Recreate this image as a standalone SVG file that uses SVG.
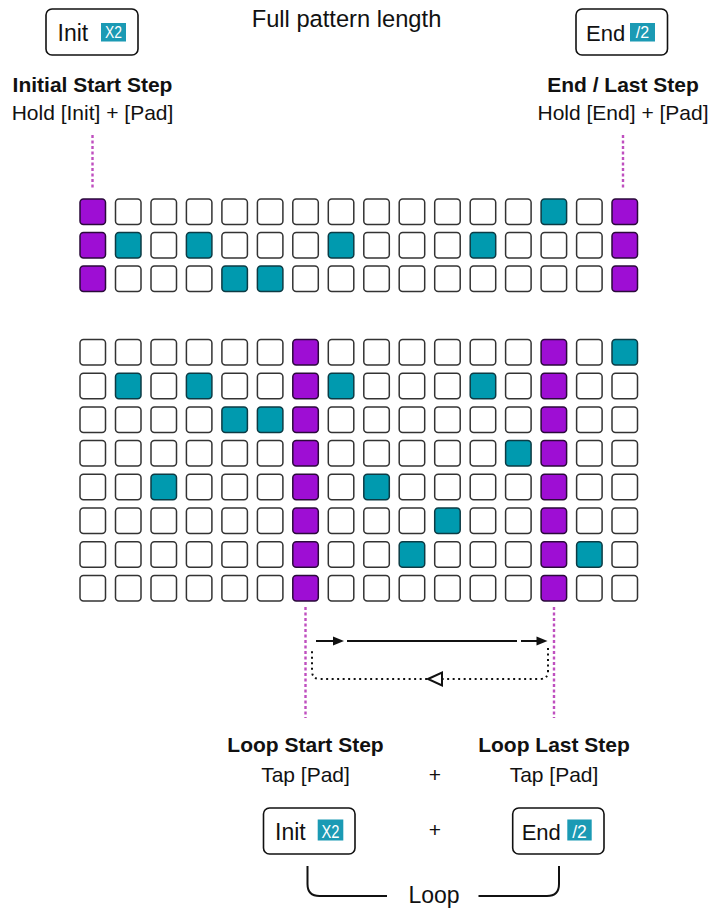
<svg xmlns="http://www.w3.org/2000/svg" width="709" height="908" viewBox="0 0 709 908">
<defs>
<style>
text{font-family:"Liberation Sans",Arial,sans-serif;fill:#111}
.b{font-weight:bold;font-size:21px}
.r{font-size:21px}
.btn{fill:#fff;stroke:#111;stroke-width:1.6}
.badge{fill:#1b9ab4}
.bt{fill:#fff;font-size:16px}
.p{stroke:#333;stroke-width:1.5;fill:#fff}
.pu{fill:#9e0ed4;stroke:#2a0a3a}
.te{fill:#009aaf;stroke:#0d3b44}
.mag{stroke:#bf4fbf;stroke-width:2.4;stroke-dasharray:3 2.5;fill:none}
.ln{stroke:#111;stroke-width:2;fill:none}
.dot{stroke:#111;stroke-width:2;stroke-dasharray:2 3.5;fill:none}
</style>
<rect id="pad" width="25.5" height="25.5" rx="3.5"/>
</defs>
<rect width="709" height="908" fill="#fff"/>

<text id="title" x="346.5" y="27" text-anchor="middle" style="font-size:23.7px">Full pattern length</text>

<g id="init-top">
<rect class="btn" x="46" y="9" width="92" height="46" rx="6"/>
<text x="57.5" y="41" style="font-size:23px">Init</text>
<rect class="badge" x="101" y="23" width="25" height="18.5"/>
<text class="bt" x="113.5" y="38.3" text-anchor="middle" textLength="17" lengthAdjust="spacingAndGlyphs">X2</text>
</g>
<g id="end-top">
<rect class="btn" x="576" y="9" width="91.5" height="46" rx="6"/>
<text x="586" y="41" style="font-size:22px">End</text>
<rect class="badge" x="630" y="23" width="25" height="18.5"/>
<text class="bt" x="642.5" y="38.3" text-anchor="middle">/2</text>
</g>

<g id="label-initial">
<text class="b" x="92.5" y="91.5" text-anchor="middle">Initial Start Step</text>
<text class="r" x="92.5" y="119.5" text-anchor="middle">Hold [Init] + [Pad]</text>
</g>
<g id="label-end">
<text class="b" x="623" y="91.5" text-anchor="middle">End / Last Step</text>
<text class="r" x="623" y="119.5" text-anchor="middle">Hold [End] + [Pad]</text>
</g>

<g id="grid-top">
<g class="p">
<use href="#pad" x="80" y="199" class="pu"/><use href="#pad" x="115.5" y="199"/><use href="#pad" x="151" y="199"/><use href="#pad" x="186.4" y="199"/><use href="#pad" x="221.9" y="199"/><use href="#pad" x="257.4" y="199"/><use href="#pad" x="292.8" y="199"/><use href="#pad" x="328.3" y="199"/><use href="#pad" x="363.8" y="199"/><use href="#pad" x="399.2" y="199"/><use href="#pad" x="434.7" y="199"/><use href="#pad" x="470.2" y="199"/><use href="#pad" x="505.6" y="199"/><use href="#pad" x="541.1" y="199" class="te"/><use href="#pad" x="576.6" y="199"/><use href="#pad" x="612" y="199" class="pu"/>
<use href="#pad" x="80" y="232.5" class="pu"/><use href="#pad" x="115.5" y="232.5" class="te"/><use href="#pad" x="151" y="232.5"/><use href="#pad" x="186.4" y="232.5" class="te"/><use href="#pad" x="221.9" y="232.5"/><use href="#pad" x="257.4" y="232.5"/><use href="#pad" x="292.8" y="232.5"/><use href="#pad" x="328.3" y="232.5" class="te"/><use href="#pad" x="363.8" y="232.5"/><use href="#pad" x="399.2" y="232.5"/><use href="#pad" x="434.7" y="232.5"/><use href="#pad" x="470.2" y="232.5" class="te"/><use href="#pad" x="505.6" y="232.5"/><use href="#pad" x="541.1" y="232.5"/><use href="#pad" x="576.6" y="232.5"/><use href="#pad" x="612" y="232.5" class="pu"/>
<use href="#pad" x="80" y="266" class="pu"/><use href="#pad" x="115.5" y="266"/><use href="#pad" x="151" y="266"/><use href="#pad" x="186.4" y="266"/><use href="#pad" x="221.9" y="266" class="te"/><use href="#pad" x="257.4" y="266" class="te"/><use href="#pad" x="292.8" y="266"/><use href="#pad" x="328.3" y="266"/><use href="#pad" x="363.8" y="266"/><use href="#pad" x="399.2" y="266"/><use href="#pad" x="434.7" y="266"/><use href="#pad" x="470.2" y="266"/><use href="#pad" x="505.6" y="266"/><use href="#pad" x="541.1" y="266"/><use href="#pad" x="576.6" y="266"/><use href="#pad" x="612" y="266" class="pu"/>
</g>
</g>

<g id="grid-bottom">
<g class="p">
<use href="#pad" x="80" y="339.5"/><use href="#pad" x="115.5" y="339.5"/><use href="#pad" x="151" y="339.5"/><use href="#pad" x="186.4" y="339.5"/><use href="#pad" x="221.9" y="339.5"/><use href="#pad" x="257.4" y="339.5"/><use href="#pad" x="292.8" y="339.5" class="pu"/><use href="#pad" x="328.3" y="339.5"/><use href="#pad" x="363.8" y="339.5"/><use href="#pad" x="399.2" y="339.5"/><use href="#pad" x="434.7" y="339.5"/><use href="#pad" x="470.2" y="339.5"/><use href="#pad" x="505.6" y="339.5"/><use href="#pad" x="541.1" y="339.5" class="pu"/><use href="#pad" x="576.6" y="339.5"/><use href="#pad" x="612" y="339.5" class="te"/>
<use href="#pad" x="80" y="373.2"/><use href="#pad" x="115.5" y="373.2" class="te"/><use href="#pad" x="151" y="373.2"/><use href="#pad" x="186.4" y="373.2" class="te"/><use href="#pad" x="221.9" y="373.2"/><use href="#pad" x="257.4" y="373.2"/><use href="#pad" x="292.8" y="373.2" class="pu"/><use href="#pad" x="328.3" y="373.2" class="te"/><use href="#pad" x="363.8" y="373.2"/><use href="#pad" x="399.2" y="373.2"/><use href="#pad" x="434.7" y="373.2"/><use href="#pad" x="470.2" y="373.2" class="te"/><use href="#pad" x="505.6" y="373.2"/><use href="#pad" x="541.1" y="373.2" class="pu"/><use href="#pad" x="576.6" y="373.2"/><use href="#pad" x="612" y="373.2"/>
<use href="#pad" x="80" y="406.9"/><use href="#pad" x="115.5" y="406.9"/><use href="#pad" x="151" y="406.9"/><use href="#pad" x="186.4" y="406.9"/><use href="#pad" x="221.9" y="406.9" class="te"/><use href="#pad" x="257.4" y="406.9" class="te"/><use href="#pad" x="292.8" y="406.9" class="pu"/><use href="#pad" x="328.3" y="406.9"/><use href="#pad" x="363.8" y="406.9"/><use href="#pad" x="399.2" y="406.9"/><use href="#pad" x="434.7" y="406.9"/><use href="#pad" x="470.2" y="406.9"/><use href="#pad" x="505.6" y="406.9"/><use href="#pad" x="541.1" y="406.9" class="pu"/><use href="#pad" x="576.6" y="406.9"/><use href="#pad" x="612" y="406.9"/>
<use href="#pad" x="80" y="440.6"/><use href="#pad" x="115.5" y="440.6"/><use href="#pad" x="151" y="440.6"/><use href="#pad" x="186.4" y="440.6"/><use href="#pad" x="221.9" y="440.6"/><use href="#pad" x="257.4" y="440.6"/><use href="#pad" x="292.8" y="440.6" class="pu"/><use href="#pad" x="328.3" y="440.6"/><use href="#pad" x="363.8" y="440.6"/><use href="#pad" x="399.2" y="440.6"/><use href="#pad" x="434.7" y="440.6"/><use href="#pad" x="470.2" y="440.6"/><use href="#pad" x="505.6" y="440.6" class="te"/><use href="#pad" x="541.1" y="440.6" class="pu"/><use href="#pad" x="576.6" y="440.6"/><use href="#pad" x="612" y="440.6"/>
<use href="#pad" x="80" y="474.3"/><use href="#pad" x="115.5" y="474.3"/><use href="#pad" x="151" y="474.3" class="te"/><use href="#pad" x="186.4" y="474.3"/><use href="#pad" x="221.9" y="474.3"/><use href="#pad" x="257.4" y="474.3"/><use href="#pad" x="292.8" y="474.3" class="pu"/><use href="#pad" x="328.3" y="474.3"/><use href="#pad" x="363.8" y="474.3" class="te"/><use href="#pad" x="399.2" y="474.3"/><use href="#pad" x="434.7" y="474.3"/><use href="#pad" x="470.2" y="474.3"/><use href="#pad" x="505.6" y="474.3"/><use href="#pad" x="541.1" y="474.3" class="pu"/><use href="#pad" x="576.6" y="474.3"/><use href="#pad" x="612" y="474.3"/>
<use href="#pad" x="80" y="508"/><use href="#pad" x="115.5" y="508"/><use href="#pad" x="151" y="508"/><use href="#pad" x="186.4" y="508"/><use href="#pad" x="221.9" y="508"/><use href="#pad" x="257.4" y="508"/><use href="#pad" x="292.8" y="508" class="pu"/><use href="#pad" x="328.3" y="508"/><use href="#pad" x="363.8" y="508"/><use href="#pad" x="399.2" y="508"/><use href="#pad" x="434.7" y="508" class="te"/><use href="#pad" x="470.2" y="508"/><use href="#pad" x="505.6" y="508"/><use href="#pad" x="541.1" y="508" class="pu"/><use href="#pad" x="576.6" y="508"/><use href="#pad" x="612" y="508"/>
<use href="#pad" x="80" y="541.7"/><use href="#pad" x="115.5" y="541.7"/><use href="#pad" x="151" y="541.7"/><use href="#pad" x="186.4" y="541.7"/><use href="#pad" x="221.9" y="541.7"/><use href="#pad" x="257.4" y="541.7"/><use href="#pad" x="292.8" y="541.7" class="pu"/><use href="#pad" x="328.3" y="541.7"/><use href="#pad" x="363.8" y="541.7"/><use href="#pad" x="399.2" y="541.7" class="te"/><use href="#pad" x="434.7" y="541.7"/><use href="#pad" x="470.2" y="541.7"/><use href="#pad" x="505.6" y="541.7"/><use href="#pad" x="541.1" y="541.7" class="pu"/><use href="#pad" x="576.6" y="541.7" class="te"/><use href="#pad" x="612" y="541.7"/>
<use href="#pad" x="80" y="575.4"/><use href="#pad" x="115.5" y="575.4"/><use href="#pad" x="151" y="575.4"/><use href="#pad" x="186.4" y="575.4"/><use href="#pad" x="221.9" y="575.4"/><use href="#pad" x="257.4" y="575.4"/><use href="#pad" x="292.8" y="575.4" class="pu"/><use href="#pad" x="328.3" y="575.4"/><use href="#pad" x="363.8" y="575.4"/><use href="#pad" x="399.2" y="575.4"/><use href="#pad" x="434.7" y="575.4"/><use href="#pad" x="470.2" y="575.4"/><use href="#pad" x="505.6" y="575.4"/><use href="#pad" x="541.1" y="575.4" class="pu"/><use href="#pad" x="576.6" y="575.4"/><use href="#pad" x="612" y="575.4"/>
</g>
</g>

<g id="label-loop-start">
<text class="b" x="305.5" y="752" text-anchor="middle">Loop Start Step</text>
<text class="r" x="305.5" y="781.5" text-anchor="middle">Tap [Pad]</text>
</g>
<g id="label-loop-last">
<text class="b" x="554" y="752" text-anchor="middle">Loop Last Step</text>
<text class="r" x="554" y="781.5" text-anchor="middle">Tap [Pad]</text>
</g>
<text id="plus1" class="r" x="435" y="781.5" text-anchor="middle">+</text>
<text id="plus2" class="r" x="435" y="837" text-anchor="middle">+</text>

<g id="init-bottom">
<rect class="btn" x="263.5" y="808" width="91.5" height="46" rx="6"/>
<text x="275" y="839.5" style="font-size:23px">Init</text>
<rect class="badge" x="317.7" y="819.5" width="25.6" height="21"/>
<text class="bt" x="330.5" y="837.5" text-anchor="middle" style="font-size:17.5px" textLength="18" lengthAdjust="spacingAndGlyphs">X2</text>
</g>
<g id="end-bottom">
<rect class="btn" x="512.7" y="808" width="91.3" height="46" rx="6"/>
<text x="521.7" y="839.5" style="font-size:22px">End</text>
<rect class="badge" x="567.3" y="819.5" width="24.4" height="21"/>
<text class="bt" x="579.5" y="837.5" text-anchor="middle" style="font-size:17.5px">/2</text>
</g>
<text id="loop-label" x="434" y="903" text-anchor="middle" style="font-size:23px">Loop</text>

<g id="connectors">
<line class="mag" x1="92.5" y1="135" x2="92.5" y2="190"/>
<line class="mag" x1="623" y1="135" x2="623" y2="190"/>
<line class="mag" x1="305.5" y1="607" x2="305.5" y2="718"/>
<line class="mag" x1="554" y1="607" x2="554" y2="718"/>
<line class="ln" x1="316" y1="641" x2="335" y2="641"/>
<polygon points="344,641 333,636.5 333,645.5" fill="#111"/>
<line class="ln" x1="347" y1="641" x2="517" y2="641"/>
<line class="ln" x1="521" y1="641" x2="539" y2="641"/>
<polygon points="547.5,641 536.5,636.5 536.5,645.5" fill="#111"/>
<path class="dot" d="M548,648 L548,671 Q548,679 540,679 L320,679 Q312,679 312,671 L312,648"/>
<polygon points="428,679 442,672.5 442,685.5" fill="#fff" stroke="#111" stroke-width="2"/>
<path class="ln" d="M307.5,866 L307.5,884 Q307.5,896 319.5,896 L387,896"/>
<path class="ln" d="M478.5,896 L547,896 Q559,896 559,884 L559,866"/>
</g>
</svg>
